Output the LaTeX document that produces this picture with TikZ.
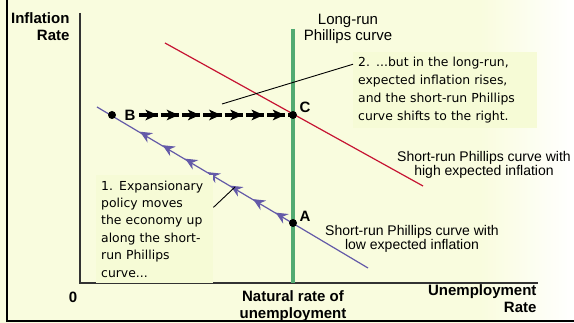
\documentclass[tikz,border=0pt]{standalone}
\usepackage{fontspec}
\setmainfont{Liberation Sans}
\newfontfamily\notefont{DejaVu Sans}
\usetikzlibrary{arrows.meta,decorations.markings,calc}

\definecolor{bgyellow}{RGB}{249,252,222}
\definecolor{boxyellow}{RGB}{246,251,214}
\definecolor{lrgreen}{RGB}{82,170,114}
\definecolor{srred}{RGB}{198,20,50}
\definecolor{srblue}{RGB}{100,90,168}

\begin{document}
\begin{tikzpicture}[x=1pt,y=-1pt,
  dot/.style={circle,fill=black,inner sep=0pt,minimum size=8pt},
  axlbl/.style={font=\fontsize{15}{17}\selectfont\bfseries},
  ptlbl/.style={font=\fontsize{15}{17}\selectfont\bfseries,inner sep=1pt},
  curvelbl/.style={font=\fontsize{14}{14}\selectfont,align=center},
  note/.style={fill=boxyellow,align=left,anchor=north west,inner xsep=5pt}]
  % background and frame
  \useasboundingbox (0,0) rectangle (574,323);
  \fill[bgyellow] (0,0) rectangle (480,323);
  \shade[left color=bgyellow,right color=white] (480,0) rectangle (574,323);
  \draw[line width=1.2pt] (7,0) -- (7,321) -- (574,321);
  % axes
  \draw[line width=1.3pt, black!80] (80,13) -- (80,283) -- (538,283);
  \node[axlbl, align=right, anchor=east] (ylbl) at (73,27) {Inflation\\Rate};
  \node[axlbl] (zero) at (73,297) {0};
  \node[axlbl, align=center] (natlbl) at (293,306) {Natural rate of\\unemployment};
  \node[axlbl, align=right, anchor=east] (xlbl) at (540,299) {Unemployment\\Rate};
  % long-run curve
  \draw[lrgreen, line width=4pt] (293,29) -- (293,283);
  \node[font=\fontsize{15}{16}\selectfont, align=center] (lrlbl) at (348,29) {Long-run\\Phillips curve};
  % short-run curves
  \draw[srred, line width=1.2pt] (165,43) -- (423,186);
  \draw[srblue, line width=1.2pt] (97,107) -- (368,268);
  \node[curvelbl] (hilbl) at (484,165) {Short-run Phillips curve with\\high expected inflation};
  \node[curvelbl] (lolbl) at (412,239) {Short-run Phillips curve with\\low expected inflation};
  % points
  \node[dot] (A) at (293,223) {};
  \node[dot] (B) at (112,115) {};
  \node[dot] (C) at (293,115) {};
  \node[ptlbl] (Albl) at (305,216) {A};
  \node[ptlbl] (Blbl) at (130,115) {B};
  \node[ptlbl] (Clbl) at (305,107) {C};
  % movements
  \path[decorate, decoration={markings,
      mark=between positions 0.096 and 0.85 step 0.1249 with {\arrow[srblue, fill=srblue, line width=1pt]{Stealth[length=12pt,width=11pt,inset=4pt]}}}]
    (A.center) -- (B.center);
  \draw[line width=3.5pt, dash pattern=on 18.3pt off 3pt, dash phase=18.6pt,
      postaction={decorate}, decoration={markings,
      mark=between positions 0.134 and 0.95 step 0.1357 with {\arrow{Stealth[length=12pt,width=10.5pt,inset=3pt]}}}]
    (Blbl.east) -- (C.center);
  % notes
  \node[note, font=\notefont\fontsize{12.4}{17.4}\selectfont, text width=107pt, inner ysep=5.5pt] (expl) at (96,175)
    {1. Expansionary\\policy moves\\the economy up\\along the short-\\run Phillips\\curve...};
  \node[note, font=\notefont\fontsize{12.4}{18}\selectfont, text width=174pt, inner ysep=5pt] (shift) at (353,52)
    {2. ...but in the long-run,\\expected inflation rises,\\and the short-run Phillips\\curve shifts to the right.};
  \coordinate (p1) at (235,187);
  \coordinate (p2) at (222,104);
  \draw[line width=0.9pt] ($(expl.north east)!0.3!(expl.south east)$) -- (p1);
  \draw[line width=0.9pt] ($(shift.north west)!0.16!(shift.south west)$) -- (p2);
\end{tikzpicture}
\end{document}
